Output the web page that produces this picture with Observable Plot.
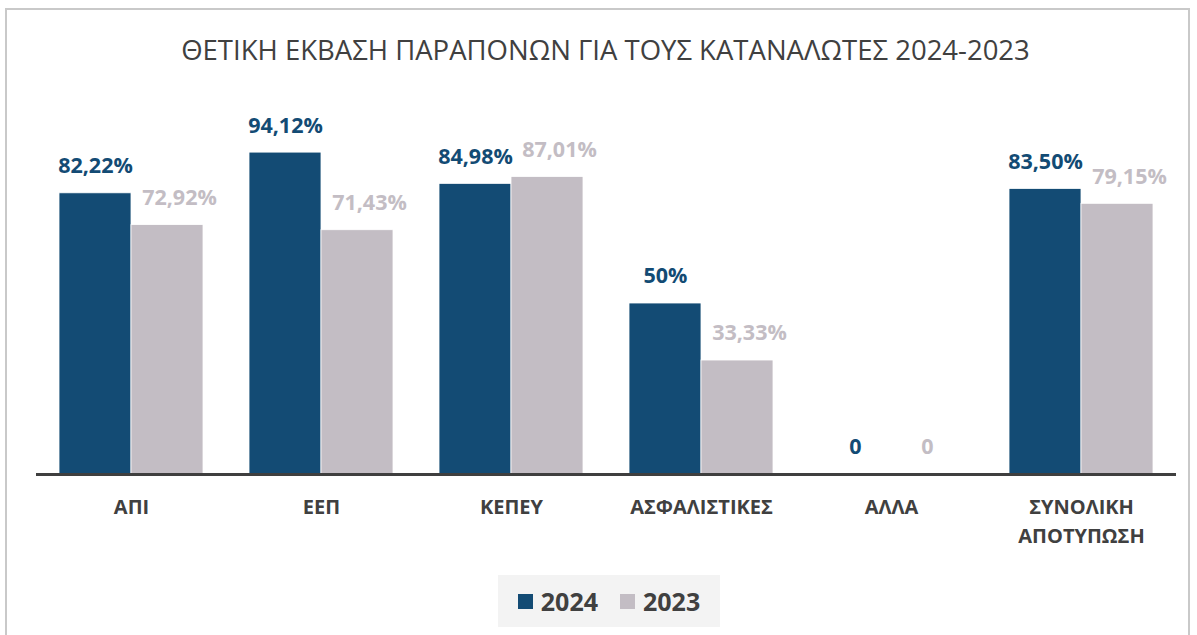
<!DOCTYPE html>
<html>
<head>
<meta charset="utf-8">
<script src="https://cdn.jsdelivr.net/npm/d3@7"></script>
<script src="https://cdn.jsdelivr.net/npm/@observablehq/plot@0.6"></script>
<style>
  html, body { margin: 0; padding: 0; background: #fff; }
  body { width: 1197px; height: 635px; overflow: hidden; position: relative; font-family: "Open Sans", sans-serif; }
  #frame { position: absolute; left: 5px; top: 8px; width: 1185px; height: 700px; border: 2px solid #c9c9c9; box-sizing: border-box; pointer-events: none; }
  #title { height: 98px; display: flex; align-items: center; justify-content: center; padding-left: 14px; box-sizing: border-box; font-size: 27.5px; color: #404040; font-weight: 400; }
  #chart { position: relative; margin-top: 2px; }
  #legend { position: absolute; left: 498px; top: 575px; width: 222px; height: 52px; background: #f3f3f3; display: flex; align-items: center; justify-content: center; gap: 0; }
  .li { display: flex; align-items: center; font-weight: 700; font-size: 25px; color: #404040; }
  .sw { width: 15px; height: 15px; margin-right: 8px; }
</style>
</head>
<body>
<div id="frame"></div>
<div id="title">ΘΕΤΙΚΗ ΕΚΒΑΣΗ ΠΑΡΑΠΟΝΩΝ ΓΙΑ ΤΟΥΣ ΚΑΤΑΝΑΛΩΤΕΣ 2024-2023</div>
<div id="chart"></div>
<div id="legend"></div>
<script>
const categories = ["ΑΠΙ", "ΕΕΠ", "ΚΕΠΕΥ", "ΑΣΦΑΛΙΣΤΙΚΕΣ", "ΑΛΛΑ", "ΣΥΝΟΛΙΚΗ ΑΠΟΤΥΠΩΣΗ"];
const years = ["2024", "2023"];
const values2024 = [82.22, 94.12, 84.98, 50, 0, 83.50];
const values2023 = [72.92, 71.43, 87.01, 33.33, 0, 79.15];
const colors = ["#134b74", "#c3bdc4"];

const rows = [];
categories.forEach((c, i) => {
  rows.push({cat: c, year: "2024", value: values2024[i]});
  rows.push({cat: c, year: "2023", value: values2023[i]});
});

const fmt = v => v === 0 ? "0" : (Number.isInteger(v) ? v + "%" : v.toFixed(2).replace(".", ",") + "%");

const r24 = rows.filter(d => d.year === "2024");
const r23 = rows.filter(d => d.year === "2023");

const chart = Plot.plot({
  width: 1197,
  height: 460,
  marginLeft: 35,
  marginRight: 20,
  marginTop: 32,
  marginBottom: 86,
  style: {fontFamily: "'Open Sans', sans-serif", overflow: "visible"},
  fx: {domain: categories, padding: 0, axis: null},
  x: {domain: years, paddingInner: 0, paddingOuter: 0.31, axis: null},
  y: {domain: [0, 100], axis: null},
  color: {domain: years, range: colors},
  marks: [
    Plot.barY(rows, {fx: "cat", x: "year", y: "value", fill: "year", stroke: "#ffffff", strokeWidth: 0.8}),
    Plot.ruleY([0], {stroke: "#3f3f3f", strokeWidth: 3}),
    Plot.text(r24, {fx: "cat", x: "year", y: "value", text: d => fmt(d.value), dy: -27, fill: colors[0], fontSize: 21.5, fontWeight: "bold"}),
    Plot.text(r23.filter(d => d.value !== 0), {fx: "cat", x: "year", y: "value", text: d => fmt(d.value), dy: -27, dx: 12, fill: colors[1], fontSize: 21.5, fontWeight: "bold"}),
    Plot.text(r23.filter(d => d.value === 0), {fx: "cat", x: "year", y: "value", text: d => fmt(d.value), dy: -27, fill: colors[1], fontSize: 21.5, fontWeight: "bold"}),
    Plot.text(categories, {fx: d => d, text: d => d, frameAnchor: "bottom", lineAnchor: "top", dy: 19, lineWidth: 7, lineHeight: 1.45, fontSize: 20, fontWeight: "bold", fill: "#404040"})
  ]
});
document.getElementById("chart").appendChild(chart);

const legend = document.getElementById("legend");
years.forEach((y, i) => {
  const item = document.createElement("div");
  item.className = "li";
  item.style.marginLeft = i === 0 ? "0px" : "22px";
  const sw = document.createElement("div");
  sw.className = "sw";
  sw.style.background = colors[i];
  const t = document.createElement("span");
  t.textContent = y;
  item.appendChild(sw);
  item.appendChild(t);
  legend.appendChild(item);
});
</script>
</body>
</html>
